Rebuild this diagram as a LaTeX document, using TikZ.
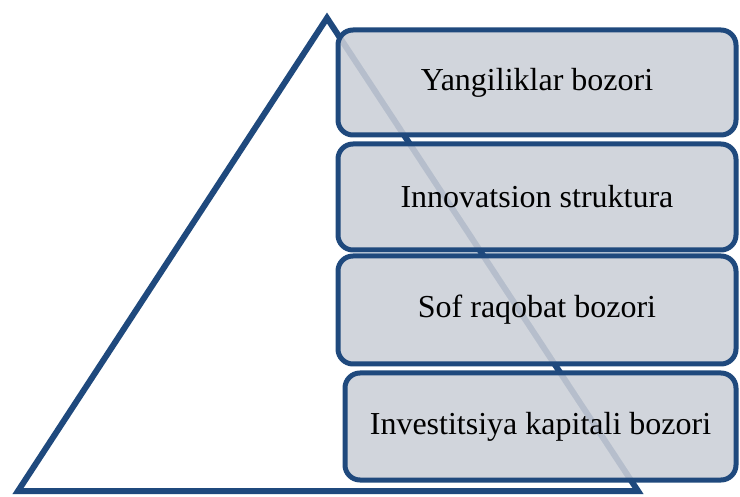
\documentclass[tikz,border=0pt]{standalone}
\usepackage{fontspec}
\setmainfont{Liberation Serif}
\definecolor{darkblue}{RGB}{31,73,125}
\definecolor{boxfill}{RGB}{203,207,215}
\begin{document}
\begin{tikzpicture}[x=1pt,y=-1pt,
  box/.style={draw=darkblue, line width=5pt, fill=boxfill, fill opacity=0.88, text opacity=1,
    rounded corners=15pt, inner sep=0pt, font=\fontsize{32}{38}\selectfont},
  tri/.style={draw=darkblue, line width=6pt, line join=miter}]
\useasboundingbox (0,0) rectangle (740,497);
\coordinate (apex) at (327,18);
\coordinate (bl) at (18,491);
\coordinate (br) at (638,491);
\draw[tri] (apex) -- (bl) -- (br) -- cycle;
\node[box, minimum width=398pt, minimum height=105pt] (b1) at (537,82.5) {Yangiliklar bozori};
\node[box, minimum width=398pt, minimum height=106pt] (b2) at (537,197) {Innovatsion struktura};
\node[box, minimum width=398pt, minimum height=108pt] (b3) at (537,310) {Sof raqobat bozori};
\node[box, minimum width=391pt, minimum height=107pt] (b4) at (540.5,426.5) {Investitsiya kapitali bozori};
\end{tikzpicture}
\end{document}
